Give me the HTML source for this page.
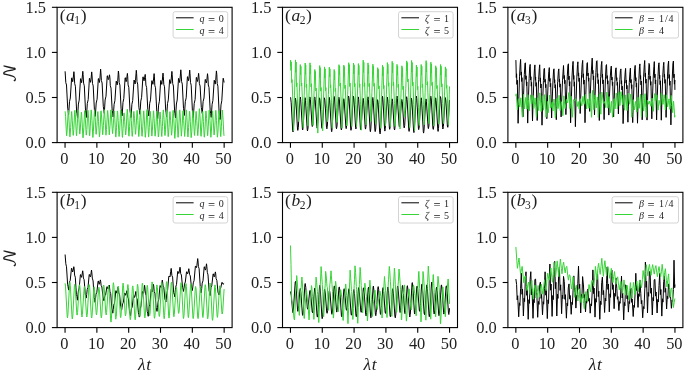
<!DOCTYPE html>
<html><head><meta charset="utf-8"><style>html,body{margin:0;padding:0;background:#fff;overflow:hidden;}svg{display:block;}</style></head><body>
<svg width="685" height="372" viewBox="0 0 685 372" font-family="'Liberation Serif', 'DejaVu Serif', serif" fill="#1e1e1e">
<rect width="685" height="372" fill="#fff"/>
<defs>
<clipPath id="c00"><rect x="57.1" y="7.3" width="175.0" height="135.3"/></clipPath>
<clipPath id="c01"><rect x="282.5" y="7.3" width="175.0" height="135.3"/></clipPath>
<clipPath id="c02"><rect x="507.9" y="7.3" width="175.0" height="135.3"/></clipPath>
<clipPath id="c10"><rect x="57.1" y="192.3" width="175.0" height="135.3"/></clipPath>
<clipPath id="c11"><rect x="282.5" y="192.3" width="175.0" height="135.3"/></clipPath>
<clipPath id="c12"><rect x="507.9" y="192.3" width="175.0" height="135.3"/></clipPath>
</defs>
<g>
<rect width="685" height="372" fill="#fff"/>
<g clip-path="url(#c00)">
<polyline points="65.1,71.3 65.8,82.6 66.5,85.0 67.7,108.1 68.1,110.7 68.6,114.7 69.5,101.7 70.3,98.0 71.6,78.1 71.8,77.8 72.7,81.7 73.1,79.1 73.9,71.7 74.2,75.0 74.7,83.7 75.4,86.2 76.6,110.9 77.0,113.7 77.5,118.0 78.4,104.1 79.2,100.1 80.5,78.9 80.7,78.6 81.6,82.7 82.0,79.8 82.8,71.3 83.1,74.7 83.6,83.2 84.3,85.8 85.5,110.3 85.9,113.1 86.4,117.4 87.3,103.5 88.2,99.6 89.4,78.5 89.6,78.2 90.5,82.3 91.0,79.7 91.7,71.9 92.0,75.1 92.5,83.4 93.2,85.9 94.4,109.6 94.8,112.3 95.3,116.4 96.2,103.0 97.1,99.2 98.3,78.8 98.5,78.5 99.4,82.5 99.9,79.1 100.6,69.1 100.9,72.3 101.4,80.5 102.1,83.0 103.3,106.5 103.7,109.2 104.3,113.3 105.1,100.0 106.0,96.2 107.2,76.0 107.4,75.7 108.3,79.6 108.8,78.4 109.5,74.8 109.9,77.9 110.3,85.7 111.0,88.1 112.2,110.5 112.7,113.1 113.2,117.0 114.1,104.3 114.9,100.7 116.2,81.4 116.3,81.1 117.2,84.9 117.7,81.3 118.4,71.0 118.8,74.3 119.2,82.6 119.9,85.1 121.1,108.9 121.6,111.6 122.1,115.8 123.0,102.3 123.8,98.5 125.1,78.0 125.3,77.7 126.1,81.7 126.6,79.6 127.4,73.4 127.7,76.6 128.1,84.9 128.8,87.3 130.0,110.9 130.5,113.6 131.0,117.6 131.9,104.3 132.7,100.5 134.0,80.3 134.2,80.0 135.1,84.0 135.5,80.5 136.3,70.3 136.6,73.4 137.0,81.7 137.7,84.1 138.9,107.6 139.4,110.3 139.9,114.3 140.8,101.1 141.6,97.3 142.9,77.1 143.1,76.8 144.0,80.8 144.4,79.1 145.2,74.4 145.5,77.4 145.9,85.1 146.6,87.4 147.8,109.6 148.3,112.1 148.8,115.9 149.7,103.4 150.5,99.9 151.8,80.8 152.0,80.6 152.9,84.3 153.3,81.6 154.1,73.6 154.4,76.9 154.8,85.3 155.5,87.8 156.8,111.7 157.2,114.5 157.7,118.6 158.6,105.1 159.4,101.2 160.7,80.6 160.9,80.4 161.8,84.4 162.2,81.5 163.0,73.1 163.3,76.3 163.8,84.4 164.5,86.8 165.7,110.1 166.1,112.7 166.6,116.8 167.5,103.6 168.3,99.9 169.6,79.9 169.8,79.6 170.7,83.5 171.1,80.4 171.9,71.4 172.2,74.7 172.7,83.4 173.4,86.0 174.6,110.9 175.0,113.8 175.5,118.0 176.4,104.0 177.2,100.0 178.5,78.6 178.7,78.3 179.6,82.5 180.0,79.2 180.8,69.8 181.1,73.1 181.6,81.6 182.3,84.1 183.5,108.5 183.9,111.2 184.4,115.4 185.3,101.7 186.2,97.8 187.4,76.9 187.6,76.6 188.5,80.7 189.0,78.0 189.7,70.1 190.0,73.6 190.5,82.5 191.2,85.2 192.4,110.7 192.8,113.6 193.3,118.0 194.2,103.6 195.1,99.5 196.3,77.6 196.5,77.3 197.4,81.5 197.9,79.4 198.6,73.3 198.9,76.2 199.4,83.7 200.1,86.0 201.3,107.4 201.7,109.9 202.3,113.6 203.1,101.5 204.0,98.0 205.2,79.6 205.4,79.4 206.3,82.9 206.8,80.6 207.5,73.7 207.9,76.8 208.3,85.0 209.0,87.4 210.2,110.7 210.7,113.4 211.2,117.4 212.1,104.3 212.9,100.5 214.2,80.5 214.3,80.2 215.2,84.1 215.7,80.7 216.4,70.9 216.8,74.4 217.2,83.5 217.9,86.2 219.1,112.1 219.6,115.1 220.1,119.5 221.0,104.9 221.8,100.7 223.1,78.5 223.3,78.2 224.1,82.5" fill="none" stroke="#000000" stroke-width="1.0" stroke-linejoin="round"/>
<polyline points="65.1,111.3 65.6,116.7 66.5,135.1 66.7,135.8 67.2,129.8 68.2,110.7 68.4,110.1 68.9,118.1 69.8,136.4 70.0,136.9 70.7,127.4 71.5,111.8 71.7,111.5 72.3,120.7 73.1,135.1 73.3,135.4 73.8,129.5 74.7,110.9 74.9,110.3 75.5,117.9 76.4,135.4 76.6,135.8 77.2,126.2 78.0,110.3 78.2,110.0 78.9,119.2 79.7,133.8 79.8,134.1 80.3,129.0 81.3,112.6 81.5,112.2 82.0,119.9 82.9,137.4 83.1,137.9 83.8,127.7 84.6,110.9 84.8,110.6 85.4,120.0 86.2,134.8 86.4,135.1 86.9,129.4 87.8,111.0 88.0,110.4 88.6,118.1 89.5,135.5 89.7,135.9 90.3,126.2 91.1,110.2 91.3,109.9 92.0,120.5 92.8,137.2 92.9,137.5 93.4,131.2 94.4,111.0 94.6,110.4 95.2,117.6 96.0,133.9 96.2,134.3 96.9,125.9 97.7,111.9 97.9,111.6 98.5,121.4 99.4,136.6 99.5,136.9 100.0,130.8 100.9,111.4 101.1,110.8 101.7,118.0 102.6,134.4 102.8,134.8 103.4,125.4 104.3,109.9 104.4,109.7 105.1,119.5 105.9,134.9 106.0,135.2 106.5,129.4 107.5,111.0 107.7,110.5 108.3,117.8 109.2,134.5 109.3,134.9 110.0,125.6 110.8,110.1 111.0,109.8 111.6,119.0 112.5,133.4 112.6,133.7 113.1,128.4 114.1,111.4 114.2,110.9 114.8,118.7 115.7,136.6 115.9,137.1 116.5,127.3 117.4,111.1 117.6,110.9 118.2,120.7 119.0,136.2 119.1,136.5 119.7,130.3 120.6,110.6 120.8,110.0 121.4,118.2 122.3,136.9 122.5,137.4 123.1,128.3 123.9,113.1 124.1,112.9 124.7,121.4 125.6,134.7 125.7,135.0 126.2,129.0 127.2,109.8 127.4,109.2 127.9,117.3 128.8,135.8 129.0,136.2 129.6,126.6 130.5,110.5 130.7,110.2 131.3,120.3 132.1,136.1 132.3,136.4 132.8,130.6 133.7,112.0 133.9,111.4 134.5,118.3 135.4,133.9 135.6,134.3 136.2,125.4 137.0,110.6 137.2,110.3 137.9,120.4 138.7,136.3 138.8,136.6 139.3,130.3 140.3,110.4 140.5,109.8 141.0,117.8 141.9,135.9 142.1,136.3 142.8,126.8 143.6,111.1 143.8,110.8 144.4,121.0 145.2,137.0 145.4,137.3 145.9,130.8 146.8,110.2 147.0,109.6 147.6,117.8 148.5,136.7 148.7,137.1 149.3,127.5 150.1,111.6 150.3,111.3 151.0,120.8 151.8,135.8 151.9,136.1 152.4,130.2 153.4,111.4 153.6,110.8 154.1,118.4 155.0,135.8 155.2,136.2 155.9,126.9 156.7,111.6 156.9,111.3 157.5,121.2 158.3,136.7 158.5,137.0 159.0,131.2 159.9,112.6 160.1,112.0 160.7,119.4 161.6,136.1 161.8,136.5 162.4,126.6 163.2,110.2 163.4,109.9 164.1,119.7 164.9,135.3 165.0,135.6 165.5,129.7 166.5,110.9 166.7,110.3 167.3,118.2 168.1,136.3 168.3,136.7 169.0,127.4 169.8,111.9 170.0,111.6 170.6,120.7 171.5,135.0 171.6,135.2 172.1,129.4 173.0,110.8 173.2,110.3 173.8,118.7 174.7,137.9 174.9,138.4 175.5,128.1 176.4,111.1 176.5,110.8 177.2,121.0 178.0,137.0 178.1,137.3 178.6,130.9 179.6,110.5 179.8,109.9 180.4,117.8 181.3,135.7 181.4,136.2 182.1,126.7 182.9,111.0 183.1,110.7 183.7,120.6 184.6,136.2 184.7,136.5 185.2,130.3 186.2,110.5 186.3,109.9 186.9,118.0 187.8,136.5 188.0,137.0 188.6,127.4 189.5,111.4 189.7,111.2 190.3,121.4 191.1,137.4 191.2,137.7 191.8,131.4 192.7,111.3 192.9,110.7 193.5,118.1 194.4,135.1 194.6,135.5 195.2,126.5 196.0,111.7 196.2,111.4 196.8,120.7 197.7,135.4 197.8,135.7 198.3,129.4 199.3,109.3 199.5,108.7 200.0,117.0 200.9,135.8 201.1,136.3 201.7,127.1 202.6,111.8 202.8,111.5 203.4,121.4 204.2,136.9 204.4,137.2 204.9,131.1 205.8,111.5 206.0,110.9 206.6,118.4 207.5,135.4 207.7,135.8 208.3,126.3 209.1,110.4 209.3,110.1 210.0,120.5 210.8,136.9 210.9,137.3 211.4,131.1 212.4,111.4 212.6,110.9 213.1,118.1 214.0,134.6 214.2,135.0 214.9,125.8 215.7,110.6 215.9,110.3 216.5,120.7 217.3,136.9 217.5,137.2 218.0,131.0 218.9,111.2 219.1,110.6 219.7,118.4 220.6,136.1 220.8,136.6 221.4,126.7 222.2,110.3 222.4,110.0 223.1,119.8 223.9,135.3 224.0,135.6 224.1,135.1" fill="none" stroke="#38d438" stroke-width="1.0" stroke-linejoin="round"/>
</g>
<rect x="57.1" y="7.3" width="175.0" height="135.3" fill="none" stroke="#000" stroke-width="1.1"/>
<line x1="65.05" y1="142.60000000000002" x2="65.05" y2="147.8" stroke="#000" stroke-width="1.1"/>
<text x="64.45" y="163.80" font-size="16.4" text-anchor="middle">0</text>
<line x1="96.87" y1="142.60000000000002" x2="96.87" y2="147.8" stroke="#000" stroke-width="1.1"/>
<text x="96.27" y="163.80" font-size="16.4" text-anchor="middle">10</text>
<line x1="128.69" y1="142.60000000000002" x2="128.69" y2="147.8" stroke="#000" stroke-width="1.1"/>
<text x="128.09" y="163.80" font-size="16.4" text-anchor="middle">20</text>
<line x1="160.51" y1="142.60000000000002" x2="160.51" y2="147.8" stroke="#000" stroke-width="1.1"/>
<text x="159.91" y="163.80" font-size="16.4" text-anchor="middle">30</text>
<line x1="192.33" y1="142.60000000000002" x2="192.33" y2="147.8" stroke="#000" stroke-width="1.1"/>
<text x="191.73" y="163.80" font-size="16.4" text-anchor="middle">40</text>
<line x1="224.15" y1="142.60000000000002" x2="224.15" y2="147.8" stroke="#000" stroke-width="1.1"/>
<text x="223.55" y="163.80" font-size="16.4" text-anchor="middle">50</text>
<line x1="51.9" y1="142.60" x2="57.1" y2="142.60" stroke="#000" stroke-width="1.1"/>
<text x="46.00" y="148.00" font-size="16.4" text-anchor="end">0.0</text>
<line x1="51.9" y1="97.50" x2="57.1" y2="97.50" stroke="#000" stroke-width="1.1"/>
<text x="46.00" y="102.90" font-size="16.4" text-anchor="end">0.5</text>
<line x1="51.9" y1="52.40" x2="57.1" y2="52.40" stroke="#000" stroke-width="1.1"/>
<text x="46.00" y="57.80" font-size="16.4" text-anchor="end">1.0</text>
<line x1="51.9" y1="7.30" x2="57.1" y2="7.30" stroke="#000" stroke-width="1.1"/>
<text x="46.00" y="12.70" font-size="16.4" text-anchor="end">1.5</text>
<text x="59.70" y="20.90" font-size="17.5">(</text>
<text x="66.00" y="20.90" font-size="17.5" font-style="italic">a</text>
<text x="74.30" y="23.50" font-size="11.5">1</text>
<text x="80.70" y="20.90" font-size="17.5">)</text>
<rect x="173.10" y="11.70" width="54.6" height="26.3" rx="2" ry="2" fill="#fff" fill-opacity="0.8" stroke="#d4d4d4" stroke-width="1"/>
<line x1="176.00" y1="17.80" x2="193.60" y2="17.80" stroke="#000000" stroke-width="1.0"/>
<text x="199.50" y="21.80" font-size="10" font-style="italic">q</text>
<text x="208.00" y="23.90" font-size="12.5" fill="#222">=</text>
<text x="218.70" y="21.80" font-size="10">0</text>
<line x1="176.00" y1="29.50" x2="193.60" y2="29.50" stroke="#38d438" stroke-width="1.0"/>
<text x="199.50" y="33.50" font-size="10" font-style="italic">q</text>
<text x="208.00" y="35.60" font-size="12.5" fill="#222">=</text>
<text x="218.70" y="33.50" font-size="10">4</text>
<text x="0" y="0" transform="translate(15.8,73.35) rotate(-90)" font-size="17" text-anchor="middle" font-family="'DejaVu Math TeX Gyre', 'Liberation Serif', 'DejaVu Serif', serif">𝒩</text>
<g clip-path="url(#c01)">
<polyline points="290.5,97.5 290.6,97.3 291.2,102.8 292.7,130.4 293.0,131.9 293.4,129.1 295.1,99.6 295.4,98.2 295.9,100.8 297.5,129.0 297.8,130.4 298.3,127.7 299.9,98.4 300.3,97.0 300.7,99.7 302.4,128.5 302.7,129.9 303.1,127.3 304.8,99.1 305.1,97.7 305.5,100.4 307.2,129.5 307.5,130.9 308.0,128.1 309.6,98.3 309.9,96.9 310.4,99.3 312.0,125.2 312.3,126.5 312.8,124.1 314.4,98.2 314.8,96.9 315.2,99.5 316.9,126.8 317.2,128.2 317.6,125.7 319.3,99.0 319.6,97.8 320.0,100.3 321.7,127.1 322.0,128.4 322.5,125.9 324.1,99.1 324.4,97.8 324.9,100.3 326.5,127.5 326.9,128.8 327.3,126.2 329.0,98.7 329.3,97.4 329.7,100.2 331.4,130.3 331.7,131.7 332.1,128.8 333.8,97.9 334.1,96.4 334.6,99.0 336.2,127.3 336.5,128.7 337.0,126.1 338.6,98.5 338.9,97.2 339.4,99.9 341.0,128.5 341.4,129.9 341.8,127.4 343.5,100.0 343.8,98.7 344.2,101.1 345.9,127.4 346.2,128.6 346.6,126.0 348.3,97.4 348.6,96.0 349.1,98.8 350.7,128.9 351.0,130.3 351.5,127.6 353.1,97.7 353.5,96.3 353.9,99.0 355.6,127.5 355.9,128.9 356.3,126.3 358.0,98.2 358.3,96.9 358.7,99.5 360.4,128.2 360.7,129.6 361.2,127.0 362.8,99.7 363.1,98.3 363.6,100.8 365.2,127.8 365.5,129.1 366.0,126.5 367.6,98.1 368.0,96.8 368.4,99.6 370.1,130.2 370.4,131.7 370.8,128.9 372.5,98.9 372.8,97.4 373.2,100.2 374.9,130.2 375.2,131.6 375.7,129.0 377.3,101.0 377.6,99.7 378.1,102.5 379.7,132.4 380.1,133.9 380.5,130.8 382.2,97.8 382.5,96.2 382.9,99.1 384.6,129.6 384.9,131.1 385.3,128.3 387.0,98.6 387.3,97.1 387.8,99.8 389.4,128.0 389.7,129.3 390.2,126.8 391.8,100.1 392.1,98.8 392.6,101.3 394.2,128.7 394.6,130.0 395.0,127.2 396.7,97.4 397.0,96.0 397.4,98.5 399.1,125.6 399.4,126.9 399.8,124.7 401.5,100.5 401.8,99.4 402.3,101.7 403.9,126.7 404.2,127.9 404.7,125.4 406.3,98.0 406.7,96.7 407.1,99.5 408.8,130.0 409.1,131.4 409.5,128.7 411.2,99.6 411.5,98.2 411.9,101.0 413.6,131.2 413.9,132.6 414.4,129.6 416.0,97.6 416.3,96.0 416.8,98.7 418.4,128.2 418.7,129.6 419.2,127.0 420.8,99.2 421.2,97.8 421.6,100.7 423.3,131.6 423.6,133.1 424.0,130.3 425.7,100.3 426.0,98.9 426.4,101.3 428.1,127.4 428.4,128.6 428.9,126.0 430.5,97.6 430.8,96.2 431.3,98.9 432.9,128.0 433.3,129.4 433.7,126.9 435.4,99.2 435.7,97.8 436.1,100.6 437.8,130.0 438.1,131.4 438.5,128.6 440.2,98.1 440.5,96.6 441.0,99.3 442.6,127.6 442.9,129.0 443.4,126.4 445.0,98.9 445.3,97.6 445.8,100.0 447.4,126.0 447.8,127.3 448.2,124.6 449.5,100.0" fill="none" stroke="#000000" stroke-width="1.0" stroke-linejoin="round"/>
<polyline points="290.5,66.1 290.6,60.1 291.0,70.5 291.2,61.9 291.7,82.6 292.0,79.5 292.8,99.1 293.6,130.8 294.5,95.3 295.5,59.9 295.8,72.3 296.1,62.0 296.5,86.6 296.9,82.9 297.6,106.0 298.5,121.5 299.4,92.9 300.3,64.6 300.6,74.5 300.9,66.3 301.3,86.0 301.7,83.0 302.5,101.8 303.3,127.8 304.2,95.3 305.2,63.0 305.5,74.3 305.7,64.9 306.2,87.4 306.6,84.1 307.3,105.4 308.1,125.9 309.0,94.0 310.0,62.8 310.3,73.9 310.6,65.0 311.0,86.9 311.4,83.7 312.2,104.3 313.0,125.5 313.9,97.2 314.8,69.5 315.1,79.4 315.4,71.5 315.8,90.9 316.2,88.1 317.0,106.3 317.8,133.1 318.7,99.3 319.7,65.6 320.0,77.4 320.2,67.7 320.7,91.1 321.1,87.5 321.8,109.6 322.7,130.8 323.5,98.8 324.5,66.9 324.8,78.0 325.1,68.8 325.5,91.0 325.9,87.6 326.6,108.4 327.5,121.8 328.4,94.4 329.3,67.2 329.7,76.7 329.9,68.8 330.4,87.8 330.7,84.9 331.5,102.9 332.3,128.3 333.2,98.8 334.2,69.5 334.5,79.7 334.7,71.3 335.2,91.6 335.6,88.4 336.3,107.5 336.9,119.5 337.2,122.4 338.1,93.7 339.0,64.7 339.3,74.6 339.6,66.2 340.0,86.2 340.4,83.0 341.2,102.0 342.0,128.3 342.9,96.9 343.8,65.1 344.2,76.0 344.4,66.7 344.9,88.6 345.2,85.2 346.0,106.0 346.8,125.9 347.7,94.3 348.7,62.7 349.0,73.7 349.3,64.6 349.7,86.5 350.1,83.1 350.8,103.9 351.7,126.5 352.6,94.7 353.5,63.0 353.8,74.0 354.1,64.8 354.5,86.9 354.9,83.5 355.7,104.4 356.5,126.8 357.4,95.1 358.4,63.6 358.7,74.6 358.9,65.4 359.4,87.3 359.8,84.0 360.5,104.8 361.3,130.2 362.2,95.2 363.2,60.2 363.5,72.4 363.8,62.3 364.2,86.5 364.6,82.8 365.4,105.8 366.2,124.9 367.1,93.5 368.0,62.9 368.3,73.8 368.6,65.1 369.0,86.6 369.4,83.5 370.2,103.8 371.0,121.6 371.9,92.6 372.9,64.2 373.2,74.4 373.4,66.3 373.9,86.3 374.3,83.4 375.0,102.2 375.9,124.3 376.7,96.0 377.7,67.7 378.0,77.5 378.3,69.3 378.7,88.9 379.1,85.9 379.9,104.6 380.7,128.3 381.6,96.6 382.5,65.0 382.9,76.0 383.1,66.8 383.6,88.7 383.9,85.4 384.7,106.2 385.5,126.0 386.4,94.4 387.4,62.6 387.7,73.6 387.9,64.3 388.4,86.2 388.8,82.8 389.5,103.7 390.4,126.7 391.3,94.1 392.2,61.3 392.5,72.6 392.8,63.0 393.2,85.7 393.6,82.1 394.4,103.6 395.2,126.4 396.1,95.5 397.0,64.4 397.4,75.1 397.6,66.0 398.1,87.5 398.4,84.1 399.2,104.6 400.0,129.0 400.9,97.3 401.9,65.8 402.2,76.8 402.5,67.7 402.9,89.6 403.3,86.2 404.0,106.8 404.9,116.7 405.8,88.7 406.7,60.9 407.0,70.6 407.3,62.6 407.7,81.9 408.1,79.0 408.9,97.4 409.7,127.6 410.6,94.0 411.6,60.5 411.9,72.2 412.1,62.5 412.6,85.8 413.0,82.2 413.7,104.3 414.5,130.8 415.4,97.8 416.4,65.0 416.7,76.5 417.0,67.0 417.4,89.8 417.8,86.3 418.5,107.7 419.1,122.0 419.4,125.5 420.3,94.9 421.2,64.5 421.5,75.1 421.8,66.3 422.2,87.5 422.6,84.2 423.4,104.3 424.2,124.9 425.1,92.6 426.1,60.6 426.4,71.9 426.6,62.7 427.1,85.0 427.5,81.7 428.2,102.7 429.1,123.6 429.9,92.7 430.9,62.2 431.2,73.0 431.5,64.2 431.9,85.5 432.3,82.3 433.1,102.5 433.9,125.9 434.8,95.7 435.7,65.8 436.1,76.3 436.3,67.7 436.8,88.6 437.1,85.5 437.9,105.1 438.7,124.1 439.6,94.3 440.6,64.5 440.9,74.9 441.1,66.3 441.6,87.0 442.0,83.8 442.7,103.4 443.6,123.6 444.5,95.2 445.4,66.9 445.7,76.8 446.0,68.6 446.4,88.3 446.8,85.3 447.6,103.9 448.4,125.1 449.3,94.3 449.5,86.4" fill="none" stroke="#38d438" stroke-width="1.0" stroke-linejoin="round"/>
</g>
<rect x="282.5" y="7.3" width="175.0" height="135.3" fill="none" stroke="#000" stroke-width="1.1"/>
<line x1="290.45" y1="142.60000000000002" x2="290.45" y2="147.8" stroke="#000" stroke-width="1.1"/>
<text x="289.85" y="163.80" font-size="16.4" text-anchor="middle">0</text>
<line x1="322.27" y1="142.60000000000002" x2="322.27" y2="147.8" stroke="#000" stroke-width="1.1"/>
<text x="321.67" y="163.80" font-size="16.4" text-anchor="middle">10</text>
<line x1="354.09" y1="142.60000000000002" x2="354.09" y2="147.8" stroke="#000" stroke-width="1.1"/>
<text x="353.49" y="163.80" font-size="16.4" text-anchor="middle">20</text>
<line x1="385.91" y1="142.60000000000002" x2="385.91" y2="147.8" stroke="#000" stroke-width="1.1"/>
<text x="385.31" y="163.80" font-size="16.4" text-anchor="middle">30</text>
<line x1="417.73" y1="142.60000000000002" x2="417.73" y2="147.8" stroke="#000" stroke-width="1.1"/>
<text x="417.13" y="163.80" font-size="16.4" text-anchor="middle">40</text>
<line x1="449.55" y1="142.60000000000002" x2="449.55" y2="147.8" stroke="#000" stroke-width="1.1"/>
<text x="448.95" y="163.80" font-size="16.4" text-anchor="middle">50</text>
<line x1="277.3" y1="142.60" x2="282.5" y2="142.60" stroke="#000" stroke-width="1.1"/>
<text x="271.40" y="148.00" font-size="16.4" text-anchor="end">0.0</text>
<line x1="277.3" y1="97.50" x2="282.5" y2="97.50" stroke="#000" stroke-width="1.1"/>
<text x="271.40" y="102.90" font-size="16.4" text-anchor="end">0.5</text>
<line x1="277.3" y1="52.40" x2="282.5" y2="52.40" stroke="#000" stroke-width="1.1"/>
<text x="271.40" y="57.80" font-size="16.4" text-anchor="end">1.0</text>
<line x1="277.3" y1="7.30" x2="282.5" y2="7.30" stroke="#000" stroke-width="1.1"/>
<text x="271.40" y="12.70" font-size="16.4" text-anchor="end">1.5</text>
<text x="285.10" y="20.90" font-size="17.5">(</text>
<text x="291.40" y="20.90" font-size="17.5" font-style="italic">a</text>
<text x="299.70" y="23.50" font-size="11.5">2</text>
<text x="306.10" y="20.90" font-size="17.5">)</text>
<rect x="398.50" y="11.70" width="54.6" height="26.3" rx="2" ry="2" fill="#fff" fill-opacity="0.8" stroke="#d4d4d4" stroke-width="1"/>
<line x1="401.40" y1="17.80" x2="419.00" y2="17.80" stroke="#000000" stroke-width="1.0"/>
<text x="424.90" y="21.80" font-size="10" font-style="italic">ζ</text>
<text x="433.40" y="23.90" font-size="12.5" fill="#222">=</text>
<text x="444.10" y="21.80" font-size="10">1</text>
<line x1="401.40" y1="29.50" x2="419.00" y2="29.50" stroke="#38d438" stroke-width="1.0"/>
<text x="424.90" y="33.50" font-size="10" font-style="italic">ζ</text>
<text x="433.40" y="35.60" font-size="12.5" fill="#222">=</text>
<text x="444.10" y="33.50" font-size="10">5</text>
<g clip-path="url(#c02)">
<polyline points="515.9,60.1 516.3,77.5 516.6,73.8 516.9,84.4 517.3,80.2 518.1,123.3 518.7,104.5 519.5,76.8 520.2,64.2 520.6,59.4 521.1,75.2 521.3,71.9 521.7,81.5 522.0,77.7 522.9,116.9 523.4,99.8 524.3,74.6 525.0,63.3 525.4,62.8 525.8,79.4 526.1,75.8 526.5,85.9 526.8,81.9 527.7,123.1 528.2,105.1 529.1,78.7 529.7,66.7 530.2,64.4 530.6,80.0 530.9,76.7 531.3,86.2 531.6,82.4 532.5,121.0 533.0,104.1 533.9,79.4 534.5,68.2 534.9,64.9 535.4,80.2 535.6,77.0 536.0,86.3 536.3,82.6 537.2,120.5 537.7,103.9 538.6,79.6 539.3,68.6 539.7,64.8 540.2,81.4 540.4,77.9 540.8,88.0 541.1,84.0 542.0,125.2 542.5,107.2 543.4,80.7 544.0,68.8 544.5,68.3 544.9,82.2 545.2,79.3 545.6,87.7 545.9,84.3 546.8,118.7 547.3,103.7 548.2,81.6 548.8,71.5 549.3,67.6 549.7,81.4 550.0,78.4 550.3,86.8 550.7,83.4 551.6,118.0 552.1,102.8 553.0,80.2 553.6,69.9 554.0,68.8 554.5,82.7 554.7,79.7 555.1,88.1 555.4,84.7 556.3,119.7 556.8,104.3 557.7,81.5 558.4,71.1 558.8,68.9 559.3,82.0 559.5,79.2 559.9,87.2 560.2,83.9 561.1,116.9 561.6,102.4 562.5,80.9 563.5,65.5 564.0,78.6 564.3,75.5 564.7,83.7 565.0,80.2 565.9,114.6 566.4,99.3 567.3,76.2 567.9,65.4 568.4,63.8 568.8,79.7 569.1,76.1 569.4,85.9 569.8,81.7 570.6,122.8 571.2,104.5 572.0,77.1 572.7,64.4 573.1,61.4 573.6,79.3 573.8,75.4 574.2,86.3 574.5,81.9 575.4,126.7 575.9,107.0 576.8,77.9 577.5,64.6 577.9,61.8 578.3,75.9 578.6,72.9 579.0,81.5 579.3,78.0 580.2,113.5 580.7,97.9 581.6,74.9 582.2,64.3 582.7,60.4 583.1,77.5 583.4,73.8 583.8,84.2 584.1,80.0 585.0,122.7 585.5,103.9 586.4,76.2 587.0,63.5 587.4,62.6 587.9,75.9 588.1,73.0 588.5,81.2 588.8,77.9 589.7,111.4 590.2,96.6 591.1,74.9 592.2,58.1 592.7,73.7 592.9,70.3 593.3,79.8 593.6,75.9 594.5,114.9 595.0,97.8 595.9,72.6 596.5,61.3 597.0,60.7 597.4,77.2 597.7,73.7 598.1,83.7 598.4,79.8 599.3,120.5 599.8,102.7 600.7,76.7 601.3,64.9 601.8,61.4 602.2,77.4 602.5,74.0 602.8,83.8 603.2,79.9 604.1,119.6 604.6,102.3 605.5,76.9 606.1,65.5 606.5,64.6 607.0,78.5 607.2,75.6 607.6,84.1 607.9,80.7 608.8,115.1 609.3,100.1 610.2,78.2 610.9,68.3 611.3,66.1 611.8,80.0 612.0,77.1 612.4,85.5 612.7,82.1 613.6,116.8 614.1,101.6 615.0,79.3 615.6,69.2 616.1,67.8 616.5,80.4 616.8,77.7 617.2,85.4 617.5,82.4 618.4,113.9 618.9,100.1 619.8,79.8 620.4,70.7 620.9,68.9 621.3,83.9 621.6,80.7 621.9,89.9 622.3,86.2 623.1,123.6 623.7,107.2 624.5,83.1 625.2,72.2 625.6,68.4 626.1,83.2 626.3,80.1 626.7,89.0 627.0,85.4 627.9,122.2 628.4,106.1 629.3,82.4 630.0,71.7 630.4,68.1 630.8,82.8 631.1,79.5 631.5,88.5 631.8,84.7 632.7,122.6 633.2,105.7 634.1,80.5 634.7,68.8 635.2,65.4 635.6,81.1 635.9,77.6 636.3,87.1 636.6,83.1 637.5,123.2 638.0,105.4 638.9,78.7 639.5,66.3 639.9,63.9 640.4,79.1 640.6,75.6 641.0,84.9 641.3,81.0 642.2,119.8 642.7,102.5 643.6,76.9 644.3,64.7 644.7,60.5 645.2,76.8 645.4,73.2 645.8,83.2 646.1,79.1 647.0,120.1 647.5,102.1 648.4,75.5 649.0,63.4 649.5,64.6 649.9,79.4 650.2,76.2 650.6,85.2 650.9,81.6 651.8,118.8 652.3,102.4 653.2,78.2 653.9,66.7 654.3,61.6 654.7,77.6 655.0,74.1 655.3,83.8 655.7,79.9 656.6,119.9 657.1,102.3 658.0,76.3 658.6,64.4 659.0,62.8 659.5,78.5 659.7,75.1 660.1,84.7 660.4,80.8 661.3,120.2 661.8,102.8 662.7,77.3 663.4,65.6 663.8,62.3 664.3,77.3 664.5,74.1 664.9,83.3 665.2,79.5 666.1,117.4 666.6,100.7 667.5,76.1 668.1,64.9 668.6,61.0 669.0,78.4 669.3,74.6 669.7,85.3 670.0,81.0 670.9,124.9 671.4,105.6 672.3,77.0 672.9,64.0 673.4,61.0 673.8,77.7 674.1,74.1 674.4,84.2 674.8,80.1 674.9,89.9" fill="none" stroke="#000000" stroke-width="1.0" stroke-linejoin="round"/>
<polyline points="515.9,96.1 516.2,93.8 516.9,103.2 517.4,109.8 517.9,105.0 518.5,98.8 518.9,100.9 519.7,107.0 520.1,105.1 520.8,97.8 520.9,98.0 522.3,117.0 522.5,117.2 523.6,94.4 524.0,100.6 524.5,108.9 525.0,105.1 525.8,97.4 526.1,98.7 527.0,109.2 527.3,106.2 527.9,94.6 528.4,99.6 529.2,110.8 529.3,110.9 529.9,103.2 530.6,94.9 530.7,94.8 531.7,104.0 532.2,101.0 532.9,95.3 533.2,96.8 533.8,108.5 534.3,105.0 535.0,98.0 535.1,97.9 535.8,107.5 536.4,117.3 536.8,114.0 537.6,97.9 537.7,97.6 538.7,110.6 539.3,101.4 539.8,92.9 540.2,95.7 541.1,111.3 541.2,111.6 541.8,101.7 542.3,95.7 542.7,100.0 543.4,110.2 543.9,106.3 544.6,94.6 544.9,96.5 546.0,117.2 546.1,117.3 546.8,108.1 547.4,101.4 547.7,105.1 548.2,112.7 548.7,108.1 549.5,95.2 549.6,95.1 550.3,104.0 550.8,108.0 551.1,107.5 552.1,102.2 552.3,102.1 552.9,111.0 554.0,99.0 554.4,102.8 555.3,117.7 555.5,118.0 556.2,107.7 556.8,98.4 557.0,98.2 558.0,108.6 558.4,106.9 559.1,95.3 559.6,100.3 560.2,110.5 560.7,108.6 561.5,101.7 561.7,101.9 562.8,115.7 563.1,112.4 563.8,95.8 564.0,96.4 565.0,108.4 565.2,108.6 565.8,103.4 566.3,99.5 566.7,100.1 567.5,103.0 567.7,102.6 568.7,92.7 568.9,92.6 569.9,108.6 570.3,104.5 571.0,96.2 571.5,103.0 572.2,117.3 572.6,115.0 573.4,99.8 573.9,100.0 574.7,100.7 575.8,98.7 576.3,100.6 577.3,106.4 577.5,106.3 578.2,101.5 579.2,109.2 579.6,106.8 580.3,98.7 580.6,99.5 581.7,105.9 581.9,105.8 582.9,96.4 583.4,99.2 584.1,104.3 584.4,103.4 585.3,94.5 585.5,94.4 586.6,109.0 586.9,107.2 587.8,98.9 588.0,99.4 588.9,108.3 589.2,106.7 590.1,93.4 590.4,95.3 591.5,116.9 591.6,117.3 592.4,90.4 593.0,96.8 593.8,109.6 593.9,109.8 594.7,98.3 595.1,94.9 595.7,100.6 596.3,107.9 596.7,105.2 597.3,96.9 597.6,100.3 598.3,117.3 598.8,112.5 599.7,94.2 599.8,93.9 600.8,114.2 601.4,100.0 601.9,92.2 602.4,94.9 603.4,103.3 603.6,103.4 604.6,101.6 604.9,102.7 605.8,107.6 606.2,102.1 606.8,92.1 607.2,96.0 607.9,108.2 608.3,105.0 609.0,96.6 609.1,96.5 609.8,104.0 610.4,112.4 610.5,112.6 611.5,101.3 611.9,107.5 612.5,117.3 612.8,116.0 613.9,98.8 614.1,98.6 615.0,108.9 615.4,106.2 616.2,93.1 616.3,93.1 617.4,109.0 617.9,104.5 618.6,91.7 618.9,93.2 619.8,105.7 620.2,103.8 620.9,91.8 621.0,91.7 621.7,96.8 622.5,104.8 622.6,104.8 623.3,94.8 623.7,98.7 624.5,110.1 624.6,110.2 625.3,100.9 625.8,94.9 626.1,96.8 627.0,110.5 627.1,110.6 627.8,100.0 628.3,93.1 628.4,93.0 629.5,104.2 629.8,102.9 630.7,94.2 631.1,101.2 631.8,117.3 632.2,113.5 633.1,99.8 633.3,99.7 634.3,110.0 634.7,108.3 635.5,101.5 635.8,102.5 636.8,112.2 637.1,109.7 637.8,97.1 638.2,99.2 639.2,108.2 639.3,108.3 640.0,99.0 640.5,94.2 640.9,102.8 641.5,117.3 642.1,100.6 642.4,95.1 643.0,102.3 643.6,111.1 644.1,107.5 645.0,93.9 645.1,93.7 645.7,107.6 646.2,117.3 646.7,111.3 647.3,100.1 647.5,100.1 648.8,104.3 649.2,103.3 649.7,101.0 650.4,103.7 651.0,106.4 651.5,103.1 652.0,98.1 652.4,100.2 653.2,111.2 653.4,111.3 654.5,93.6 654.9,95.1 655.6,100.4 655.8,100.4 656.8,94.8 657.1,96.6 658.0,110.0 658.1,110.1 659.0,100.3 659.4,101.2 660.3,105.8 660.6,104.8 661.3,93.1 661.5,93.1 662.2,98.3 662.9,104.4 663.1,104.3 664.1,94.7 664.6,98.4 665.3,109.8 665.5,110.1 666.4,94.8 666.8,97.1 667.6,106.7 667.7,106.9 668.3,103.0 669.0,98.8 669.3,100.7 669.9,109.3 670.4,106.0 671.2,95.4 671.5,96.8 672.5,112.3 672.7,112.7 673.5,101.1 674.1,107.5 674.7,117.3 674.9,115.1" fill="none" stroke="#38d438" stroke-width="1.0" stroke-linejoin="round"/>
</g>
<rect x="507.9" y="7.3" width="175.0" height="135.3" fill="none" stroke="#000" stroke-width="1.1"/>
<line x1="515.85" y1="142.60000000000002" x2="515.85" y2="147.8" stroke="#000" stroke-width="1.1"/>
<text x="515.25" y="163.80" font-size="16.4" text-anchor="middle">0</text>
<line x1="547.67" y1="142.60000000000002" x2="547.67" y2="147.8" stroke="#000" stroke-width="1.1"/>
<text x="547.07" y="163.80" font-size="16.4" text-anchor="middle">10</text>
<line x1="579.49" y1="142.60000000000002" x2="579.49" y2="147.8" stroke="#000" stroke-width="1.1"/>
<text x="578.89" y="163.80" font-size="16.4" text-anchor="middle">20</text>
<line x1="611.31" y1="142.60000000000002" x2="611.31" y2="147.8" stroke="#000" stroke-width="1.1"/>
<text x="610.71" y="163.80" font-size="16.4" text-anchor="middle">30</text>
<line x1="643.13" y1="142.60000000000002" x2="643.13" y2="147.8" stroke="#000" stroke-width="1.1"/>
<text x="642.53" y="163.80" font-size="16.4" text-anchor="middle">40</text>
<line x1="674.95" y1="142.60000000000002" x2="674.95" y2="147.8" stroke="#000" stroke-width="1.1"/>
<text x="674.35" y="163.80" font-size="16.4" text-anchor="middle">50</text>
<line x1="502.7" y1="142.60" x2="507.9" y2="142.60" stroke="#000" stroke-width="1.1"/>
<text x="496.80" y="148.00" font-size="16.4" text-anchor="end">0.0</text>
<line x1="502.7" y1="97.50" x2="507.9" y2="97.50" stroke="#000" stroke-width="1.1"/>
<text x="496.80" y="102.90" font-size="16.4" text-anchor="end">0.5</text>
<line x1="502.7" y1="52.40" x2="507.9" y2="52.40" stroke="#000" stroke-width="1.1"/>
<text x="496.80" y="57.80" font-size="16.4" text-anchor="end">1.0</text>
<line x1="502.7" y1="7.30" x2="507.9" y2="7.30" stroke="#000" stroke-width="1.1"/>
<text x="496.80" y="12.70" font-size="16.4" text-anchor="end">1.5</text>
<text x="510.50" y="20.90" font-size="17.5">(</text>
<text x="516.80" y="20.90" font-size="17.5" font-style="italic">a</text>
<text x="525.10" y="23.50" font-size="11.5">3</text>
<text x="531.50" y="20.90" font-size="17.5">)</text>
<rect x="612.10" y="11.70" width="66.4" height="26.3" rx="2" ry="2" fill="#fff" fill-opacity="0.8" stroke="#d4d4d4" stroke-width="1"/>
<line x1="615.00" y1="17.80" x2="632.60" y2="17.80" stroke="#000000" stroke-width="1.0"/>
<text x="638.90" y="21.80" font-size="10" font-style="italic">β</text>
<text x="647.40" y="23.90" font-size="12.5" fill="#222">=</text>
<text x="659.00" y="21.80" font-size="10" letter-spacing="0.9">1/4</text>
<line x1="615.00" y1="29.50" x2="632.60" y2="29.50" stroke="#38d438" stroke-width="1.0"/>
<text x="638.90" y="33.50" font-size="10" font-style="italic">β</text>
<text x="647.40" y="35.60" font-size="12.5" fill="#222">=</text>
<text x="659.00" y="33.50" font-size="10">4</text>
<g clip-path="url(#c10)">
<polyline points="65.1,254.5 65.8,263.7 66.5,266.8 67.6,284.3 68.0,286.3 68.6,290.1 69.0,286.5 69.5,281.9 70.2,280.6 71.5,268.3 71.7,268.1 72.6,272.0 73.1,270.7 73.8,266.7 74.2,269.1 74.6,275.1 75.3,277.2 76.4,294.4 76.9,296.4 77.4,300.2 77.8,296.2 78.4,291.0 79.2,288.0 80.4,274.7 80.6,274.5 81.5,277.3 81.9,275.7 82.7,270.8 83.0,272.8 83.4,278.1 84.1,279.6 85.3,294.1 85.7,295.5 86.2,298.1 86.7,294.4 87.2,289.6 88.0,287.4 89.2,274.6 89.4,274.4 90.3,276.9 90.8,275.2 91.5,270.0 91.8,272.3 92.3,278.1 93.1,280.9 94.1,297.4 94.6,299.2 95.1,302.4 95.5,298.8 96.0,294.2 96.8,292.4 98.1,281.2 98.3,281.0 99.2,284.3 99.6,283.2 100.4,279.9 100.7,281.4 101.1,285.3 101.9,287.0 103.0,297.1 103.4,298.3 103.9,300.7 104.4,298.5 104.9,295.7 105.6,294.9 106.9,286.8 107.2,286.7 108.0,289.0 108.5,288.1 109.2,285.0 109.5,287.0 110.0,291.9 110.7,293.6 111.8,308.2 112.3,310.0 112.8,313.2 113.2,309.7 113.7,305.2 114.5,303.1 115.8,290.8 116.0,290.6 116.9,293.2 117.3,291.6 118.1,286.9 118.4,288.6 118.8,292.9 119.6,294.8 120.7,306.5 121.1,307.8 121.6,310.1 122.1,307.4 122.6,303.9 123.3,302.4 124.6,293.1 124.9,293.0 125.7,295.3 126.1,294.2 126.9,290.7 127.2,292.4 127.7,297.0 128.4,298.5 129.5,311.8 130.0,313.3 130.5,316.1 130.9,312.9 131.4,308.9 132.2,307.0 133.5,295.4 133.7,295.1 134.5,297.5 135.0,296.0 135.8,291.5 136.1,293.3 136.5,297.8 137.2,299.1 138.4,312.7 138.8,314.3 139.3,317.1 139.8,313.4 140.3,308.6 141.0,306.1 142.3,291.6 142.5,291.4 143.4,293.5 143.8,291.5 144.6,285.3 144.9,287.5 145.4,293.3 146.1,295.1 147.2,311.4 147.7,313.1 148.2,316.3 148.6,312.1 149.1,306.8 149.9,304.2 151.2,289.5 151.3,289.3 152.2,291.9 152.7,290.0 153.4,284.4 153.8,286.5 154.2,291.7 154.9,293.1 156.1,307.4 156.5,308.8 157.0,311.4 157.5,307.4 158.0,302.3 158.8,299.2 160.0,285.7 160.2,285.5 161.1,287.5 161.5,285.6 162.3,280.1 162.6,281.8 163.1,286.2 163.8,287.3 164.9,299.0 165.4,300.4 165.9,302.0 166.8,293.5 167.6,290.1 168.8,276.3 169.1,276.0 170.0,277.0 170.7,271.5 171.2,268.4 171.9,275.5 172.6,277.1 173.7,292.7 174.3,294.6 174.8,296.8 175.6,287.5 176.5,284.4 177.7,271.5 177.9,271.3 178.8,273.5 179.2,272.0 180.0,267.2 180.3,269.0 180.7,273.6 181.4,275.0 182.6,287.7 183.0,289.0 183.5,291.4 184.0,288.2 184.5,284.2 185.3,282.0 186.5,271.9 186.8,271.7 187.6,273.8 188.1,272.6 188.8,268.7 189.1,270.4 189.6,274.6 190.3,275.9 191.4,286.9 191.9,288.1 192.4,290.5 192.8,287.1 193.3,282.8 194.1,280.4 195.4,266.2 195.6,266.0 196.5,267.6 196.9,265.4 197.7,258.6 198.0,260.9 198.4,266.7 199.1,268.6 200.3,287.4 200.7,289.3 201.2,292.9 201.7,288.6 202.2,283.1 203.0,280.8 204.2,266.9 204.4,266.7 205.3,270.1 205.8,268.5 206.5,263.8 206.8,266.2 207.3,272.3 208.0,274.9 209.1,290.8 209.6,292.5 210.1,295.6 210.5,292.0 211.0,287.4 211.8,285.5 213.1,274.0 213.3,273.8 214.2,276.9 214.6,275.6 215.4,271.9 215.7,273.8 216.1,278.5 216.9,280.6 218.0,292.3 218.5,293.8 219.0,294.9 219.9,289.2 220.8,287.6 221.9,282.4 222.2,282.4 223.0,284.3 224.1,283.4" fill="none" stroke="#000000" stroke-width="1.0" stroke-linejoin="round"/>
<polyline points="65.1,283.3 65.5,286.1 67.2,316.3 67.5,317.8 67.9,314.9 69.6,283.8 69.9,282.3 70.3,285.2 72.0,317.3 72.3,318.9 72.8,316.0 74.4,285.8 74.7,284.4 75.2,286.9 76.8,313.8 77.1,315.1 77.6,312.6 79.2,286.0 79.6,284.7 80.0,287.3 81.7,315.7 82.0,317.0 82.4,314.5 84.1,287.8 84.4,286.5 84.8,289.0 86.5,315.7 86.8,317.0 87.3,314.4 88.9,286.0 89.2,284.6 89.7,287.3 91.3,316.6 91.7,318.0 92.1,315.4 93.8,288.1 94.1,286.8 94.5,289.1 96.2,313.7 96.5,314.9 96.9,312.6 98.6,288.5 98.9,287.3 99.4,289.8 101.0,316.5 101.3,317.8 101.8,315.2 103.4,286.4 103.7,285.0 104.2,287.4 105.8,313.6 106.2,314.9 106.6,312.5 108.3,286.7 108.6,285.5 109.0,288.5 110.7,320.6 111.0,322.1 111.4,318.9 113.1,284.4 113.4,282.7 113.9,285.7 115.5,317.6 115.8,319.2 116.3,316.5 117.9,287.5 118.3,286.1 118.7,288.7 120.4,316.3 120.7,317.7 121.1,314.9 122.8,284.6 123.1,283.1 123.5,285.8 125.2,314.5 125.5,315.9 126.0,313.3 127.6,285.8 127.9,284.5 128.4,287.4 130.0,318.2 130.3,319.7 130.8,317.0 132.4,287.3 132.8,285.9 133.2,288.6 134.9,318.4 135.2,319.8 135.6,316.9 137.3,285.8 137.6,284.3 138.0,286.9 139.7,315.2 140.0,316.5 140.5,313.8 142.1,284.6 142.4,283.2 142.9,286.1 144.5,316.4 144.9,317.9 145.3,315.2 147.0,286.7 147.3,285.3 147.7,287.8 149.4,314.4 149.7,315.7 150.1,313.0 151.8,283.3 152.1,281.9 152.6,284.9 154.2,316.8 154.5,318.3 155.0,315.6 156.6,286.3 156.9,284.9 157.4,287.5 159.0,315.2 159.4,316.5 159.8,313.8 161.5,283.9 161.8,282.4 162.2,285.4 163.9,317.2 164.2,318.7 164.6,315.7 166.3,283.2 166.6,281.7 167.1,284.6 168.7,316.6 169.0,318.1 169.5,315.2 171.1,283.7 171.5,282.2 171.9,285.0 173.6,315.2 173.9,316.7 174.3,314.3 176.0,288.3 176.3,287.1 176.7,289.2 178.4,312.3 178.7,313.4 179.2,310.9 180.8,283.9 181.1,282.6 181.6,285.5 183.2,317.0 183.5,318.5 184.0,315.7 185.6,285.1 186.0,283.6 186.4,286.4 188.1,316.2 188.4,317.6 188.8,314.8 190.5,285.2 190.8,283.8 191.2,286.6 192.9,317.1 193.2,318.6 193.7,315.9 195.3,287.8 195.6,286.5 196.1,289.1 197.7,317.2 198.1,318.6 198.5,315.9 200.2,287.4 200.5,286.0 200.9,288.6 202.6,316.2 202.9,317.5 203.3,314.9 205.0,286.1 205.3,284.7 205.8,287.5 207.4,317.4 207.7,318.8 208.2,315.9 209.8,284.5 210.1,283.0 210.6,286.1 212.2,318.9 212.6,320.4 213.0,317.5 214.7,286.4 215.0,284.9 215.4,287.5 217.1,316.0 217.4,317.4 217.8,314.8 219.5,287.1 219.8,285.8 220.3,288.1 221.9,312.8 222.2,314.0 222.7,311.7 224.1,289.1" fill="none" stroke="#38d438" stroke-width="1.0" stroke-linejoin="round"/>
</g>
<rect x="57.1" y="192.3" width="175.0" height="135.3" fill="none" stroke="#000" stroke-width="1.1"/>
<line x1="65.05" y1="327.6" x2="65.05" y2="332.8" stroke="#000" stroke-width="1.1"/>
<text x="64.45" y="348.80" font-size="16.4" text-anchor="middle">0</text>
<line x1="96.87" y1="327.6" x2="96.87" y2="332.8" stroke="#000" stroke-width="1.1"/>
<text x="96.27" y="348.80" font-size="16.4" text-anchor="middle">10</text>
<line x1="128.69" y1="327.6" x2="128.69" y2="332.8" stroke="#000" stroke-width="1.1"/>
<text x="128.09" y="348.80" font-size="16.4" text-anchor="middle">20</text>
<line x1="160.51" y1="327.6" x2="160.51" y2="332.8" stroke="#000" stroke-width="1.1"/>
<text x="159.91" y="348.80" font-size="16.4" text-anchor="middle">30</text>
<line x1="192.33" y1="327.6" x2="192.33" y2="332.8" stroke="#000" stroke-width="1.1"/>
<text x="191.73" y="348.80" font-size="16.4" text-anchor="middle">40</text>
<line x1="224.15" y1="327.6" x2="224.15" y2="332.8" stroke="#000" stroke-width="1.1"/>
<text x="223.55" y="348.80" font-size="16.4" text-anchor="middle">50</text>
<line x1="51.9" y1="327.60" x2="57.1" y2="327.60" stroke="#000" stroke-width="1.1"/>
<text x="46.00" y="333.00" font-size="16.4" text-anchor="end">0.0</text>
<line x1="51.9" y1="282.50" x2="57.1" y2="282.50" stroke="#000" stroke-width="1.1"/>
<text x="46.00" y="287.90" font-size="16.4" text-anchor="end">0.5</text>
<line x1="51.9" y1="237.40" x2="57.1" y2="237.40" stroke="#000" stroke-width="1.1"/>
<text x="46.00" y="242.80" font-size="16.4" text-anchor="end">1.0</text>
<line x1="51.9" y1="192.30" x2="57.1" y2="192.30" stroke="#000" stroke-width="1.1"/>
<text x="46.00" y="197.70" font-size="16.4" text-anchor="end">1.5</text>
<text x="59.70" y="205.90" font-size="17.5">(</text>
<text x="66.00" y="205.90" font-size="17.5" font-style="italic">b</text>
<text x="74.30" y="208.50" font-size="11.5">1</text>
<text x="80.70" y="205.90" font-size="17.5">)</text>
<rect x="173.10" y="196.70" width="54.6" height="26.3" rx="2" ry="2" fill="#fff" fill-opacity="0.8" stroke="#d4d4d4" stroke-width="1"/>
<line x1="176.00" y1="202.80" x2="193.60" y2="202.80" stroke="#000000" stroke-width="1.0"/>
<text x="199.50" y="206.80" font-size="10" font-style="italic">q</text>
<text x="208.00" y="208.90" font-size="12.5" fill="#222">=</text>
<text x="218.70" y="206.80" font-size="10">0</text>
<line x1="176.00" y1="214.50" x2="193.60" y2="214.50" stroke="#38d438" stroke-width="1.0"/>
<text x="199.50" y="218.50" font-size="10" font-style="italic">q</text>
<text x="208.00" y="220.60" font-size="12.5" fill="#222">=</text>
<text x="218.70" y="218.50" font-size="10">4</text>
<text x="0" y="0" transform="translate(15.8,258.35) rotate(-90)" font-size="17" text-anchor="middle" font-family="'DejaVu Math TeX Gyre', 'Liberation Serif', 'DejaVu Serif', serif">𝒩</text>
<text x="144.60" y="369.6" font-size="17.5" text-anchor="middle" font-style="italic">λ<tspan dx="0.6">t</tspan></text>
<g clip-path="url(#c11)">
<polyline points="290.5,291.7 290.6,291.6 291.3,295.8 292.7,311.8 293.0,312.7 293.4,310.1 295.2,282.3 295.5,281.4 296.1,285.9 297.5,309.9 297.9,311.4 298.4,308.7 300.0,289.4 300.3,288.5 300.8,291.5 302.4,314.3 302.7,315.4 303.2,312.9 304.9,284.4 305.2,283.5 305.8,287.4 307.3,307.9 307.6,309.2 308.2,306.5 309.7,291.1 310.1,290.4 310.6,292.9 312.2,311.8 312.5,312.7 312.9,310.7 314.6,288.6 315.0,287.9 315.5,292.3 317.0,315.7 317.4,317.1 317.9,313.4 319.5,286.5 319.8,285.3 320.3,289.0 321.9,317.3 322.2,318.7 322.7,316.3 324.4,290.2 324.7,289.4 325.3,293.0 326.7,312.1 327.1,313.3 327.6,310.6 329.2,291.2 329.5,290.3 330.0,293.0 331.6,313.3 331.9,314.3 332.4,312.0 334.1,286.7 334.4,285.9 335.0,289.9 336.5,310.8 336.8,312.1 337.4,309.2 338.9,287.9 339.3,286.9 339.8,290.2 341.4,315.5 341.7,316.7 342.1,314.5 343.8,289.6 344.2,288.7 344.7,292.0 346.2,309.2 346.6,310.3 347.1,307.8 348.7,289.5 349.0,288.7 349.5,291.6 351.1,314.1 351.4,315.2 351.9,313.1 353.6,290.2 353.9,289.5 354.5,293.6 355.9,315.3 356.3,316.7 356.8,313.3 358.4,288.7 358.7,287.6 359.2,290.3 360.8,311.3 361.2,312.3 361.6,310.4 363.3,288.5 363.6,287.8 364.2,292.1 365.7,314.5 366.1,315.9 366.6,312.5 368.2,288.3 368.5,287.2 369.0,290.6 370.6,316.6 370.9,317.8 371.3,315.3 373.1,287.1 373.4,286.1 373.9,290.6 375.4,314.2 375.8,315.7 376.3,312.3 377.9,287.7 378.2,286.6 378.7,289.7 380.3,313.3 380.6,314.4 381.1,312.3 382.8,288.4 383.1,287.6 383.7,291.5 385.1,312.1 385.5,313.4 386.0,310.3 387.6,288.0 387.9,287.0 388.5,290.3 390.0,315.6 390.4,316.8 390.8,314.5 392.5,289.6 392.8,288.7 393.4,293.1 394.9,316.4 395.3,317.8 395.8,314.1 397.4,287.2 397.7,286.0 398.2,288.9 399.8,311.4 400.1,312.5 400.5,310.3 402.3,286.2 402.6,285.4 403.2,289.7 404.6,312.3 405.0,313.7 405.5,310.5 407.1,286.8 407.4,285.7 407.9,289.2 409.5,315.7 409.8,317.0 410.3,314.3 412.0,283.6 412.3,282.6 412.9,287.4 414.4,312.4 414.7,314.0 415.2,310.7 416.8,287.0 417.2,286.0 417.7,288.8 419.3,310.2 419.6,311.3 420.0,309.1 421.7,284.7 422.1,283.9 422.6,288.6 424.1,313.1 424.5,314.6 425.0,311.1 426.6,285.9 426.9,284.8 427.4,288.3 429.0,315.4 429.3,316.7 429.8,313.9 431.5,283.1 431.8,282.1 432.4,286.9 433.8,312.4 434.2,314.0 434.7,310.9 436.3,288.3 436.6,287.3 437.1,290.4 438.7,314.5 439.0,315.7 439.5,313.2 441.2,285.8 441.5,284.9 442.1,289.3 443.6,312.7 443.9,314.1 444.5,310.8 446.0,286.9 446.4,285.8 446.9,289.0 448.5,313.3 448.8,314.5 449.2,312.3 449.5,308.2" fill="none" stroke="#000000" stroke-width="1.0" stroke-linejoin="round"/>
<polyline points="290.5,245.5 291.0,264.5 291.7,300.2 292.3,302.6 294.1,319.0 294.5,319.9 295.0,311.2 295.7,292.2 296.1,287.9 296.7,275.6 297.1,279.6 297.9,291.0 298.3,294.2 299.2,315.1 299.4,315.4 300.0,303.4 300.6,290.8 301.1,287.8 301.9,277.0 302.2,279.7 302.8,290.8 303.2,296.6 304.1,318.0 304.3,318.5 305.5,301.0 305.9,298.0 306.4,289.9 306.9,293.9 307.6,301.3 308.0,303.7 309.0,319.8 309.1,319.9 309.7,309.7 310.4,299.0 310.8,296.4 311.5,285.6 311.8,287.3 312.5,296.4 313.0,301.3 313.8,319.0 313.9,319.4 314.4,310.9 315.2,292.3 315.6,287.4 316.1,277.1 316.7,282.9 317.4,291.6 317.7,294.2 318.7,322.3 318.8,322.6 319.5,304.8 320.1,286.2 320.5,281.1 321.1,266.6 321.6,273.6 322.3,284.5 322.7,291.2 323.5,316.1 323.7,316.7 324.2,308.1 324.9,289.2 325.3,283.3 325.6,271.4 326.2,275.3 327.0,286.4 327.4,287.8 328.4,310.0 328.6,310.3 329.2,297.8 329.8,284.8 330.2,282.0 331.0,270.8 331.4,275.7 332.0,284.6 332.5,291.7 333.3,317.6 333.5,318.1 334.7,294.7 335.1,291.1 335.6,281.3 336.1,284.8 336.8,294.6 337.2,296.9 338.2,311.5 338.3,311.7 338.9,304.6 339.6,297.1 340.0,295.1 340.7,289.8 341.2,292.6 341.7,297.5 342.2,302.3 343.0,320.2 343.2,320.5 344.4,298.8 344.8,296.5 345.6,284.1 345.8,284.0 346.6,295.4 347.2,304.0 347.9,323.5 348.0,323.7 348.7,307.3 349.3,290.2 349.7,282.0 350.1,270.1 350.7,277.7 351.4,289.3 351.7,291.5 352.8,319.3 352.9,319.5 353.4,308.8 354.2,285.3 354.5,279.3 355.0,265.8 355.6,272.4 356.3,286.5 356.6,289.7 357.7,323.0 357.8,323.3 358.4,307.2 359.1,290.4 359.4,284.7 360.1,267.4 360.5,271.2 361.2,285.3 361.7,291.1 362.5,312.4 362.7,312.9 363.9,293.7 364.3,291.1 364.9,283.2 365.4,287.3 366.1,294.0 366.4,296.3 367.4,320.6 367.5,320.9 368.2,308.3 368.8,295.2 369.2,291.8 369.9,280.2 370.3,284.9 371.0,294.9 371.4,299.5 372.2,316.1 372.4,316.5 373.6,301.4 374.0,299.7 374.8,290.2 375.0,290.1 375.9,300.9 376.4,303.5 377.1,309.6 377.3,309.5 378.5,300.0 378.9,298.8 379.9,291.1 380.1,291.7 380.8,296.3 381.4,306.8 382.0,317.9 382.1,318.0 382.6,310.0 383.4,292.3 383.7,289.4 384.5,276.5 385.0,282.8 385.6,290.9 386.1,299.0 386.9,317.3 387.0,317.5 387.6,300.6 388.3,282.9 388.6,279.1 389.3,266.4 389.8,271.4 390.4,281.8 390.9,289.1 391.7,315.9 391.9,316.4 393.1,289.5 393.5,286.7 394.4,268.2 394.8,271.9 395.3,284.8 395.8,293.2 396.6,312.0 396.7,312.2 397.4,299.5 398.0,286.1 398.4,281.2 399.0,269.0 399.4,273.0 400.2,283.6 400.5,289.2 401.4,319.4 401.6,320.0 402.8,296.7 403.3,294.6 404.4,285.2 404.5,284.9 405.1,297.8 406.0,314.8 406.4,321.1 406.8,317.5 407.7,298.6 408.2,296.4 409.1,289.0 409.2,288.9 410.0,300.1 410.6,304.9 411.2,310.0 411.6,308.6 412.6,293.4 413.0,291.1 413.5,284.9 414.0,287.2 414.7,293.5 415.1,295.4 416.1,315.6 416.2,315.8 416.8,303.5 417.5,290.7 417.9,287.9 418.7,271.8 418.9,271.4 419.7,288.7 420.3,304.7 421.0,321.8 421.0,321.9 421.5,312.8 422.3,292.7 422.6,285.9 423.0,271.5 423.5,276.0 424.4,289.2 424.7,290.9 425.8,319.9 425.9,320.2 426.6,304.1 427.2,287.3 427.6,282.4 428.3,266.1 428.8,273.7 429.4,283.8 429.8,291.3 430.6,318.6 430.8,319.2 432.0,293.1 432.4,289.9 433.2,274.6 433.3,274.5 433.8,283.4 434.3,292.6 434.8,300.0 435.5,316.6 435.7,316.9 436.3,305.1 436.9,292.8 437.3,289.0 438.0,276.3 438.5,281.0 439.1,287.4 439.5,293.0 440.4,323.2 440.6,323.9 441.8,302.2 442.2,298.7 442.8,286.9 443.2,290.8 443.9,300.7 444.3,302.8 445.3,316.5 445.4,316.7 446.0,304.4 446.7,291.6 447.1,289.3 448.1,279.0 448.2,279.0 448.9,292.3 449.5,303.8" fill="none" stroke="#38d438" stroke-width="1.0" stroke-linejoin="round"/>
</g>
<rect x="282.5" y="192.3" width="175.0" height="135.3" fill="none" stroke="#000" stroke-width="1.1"/>
<line x1="290.45" y1="327.6" x2="290.45" y2="332.8" stroke="#000" stroke-width="1.1"/>
<text x="289.85" y="348.80" font-size="16.4" text-anchor="middle">0</text>
<line x1="322.27" y1="327.6" x2="322.27" y2="332.8" stroke="#000" stroke-width="1.1"/>
<text x="321.67" y="348.80" font-size="16.4" text-anchor="middle">10</text>
<line x1="354.09" y1="327.6" x2="354.09" y2="332.8" stroke="#000" stroke-width="1.1"/>
<text x="353.49" y="348.80" font-size="16.4" text-anchor="middle">20</text>
<line x1="385.91" y1="327.6" x2="385.91" y2="332.8" stroke="#000" stroke-width="1.1"/>
<text x="385.31" y="348.80" font-size="16.4" text-anchor="middle">30</text>
<line x1="417.73" y1="327.6" x2="417.73" y2="332.8" stroke="#000" stroke-width="1.1"/>
<text x="417.13" y="348.80" font-size="16.4" text-anchor="middle">40</text>
<line x1="449.55" y1="327.6" x2="449.55" y2="332.8" stroke="#000" stroke-width="1.1"/>
<text x="448.95" y="348.80" font-size="16.4" text-anchor="middle">50</text>
<line x1="277.3" y1="327.60" x2="282.5" y2="327.60" stroke="#000" stroke-width="1.1"/>
<text x="271.40" y="333.00" font-size="16.4" text-anchor="end">0.0</text>
<line x1="277.3" y1="282.50" x2="282.5" y2="282.50" stroke="#000" stroke-width="1.1"/>
<text x="271.40" y="287.90" font-size="16.4" text-anchor="end">0.5</text>
<line x1="277.3" y1="237.40" x2="282.5" y2="237.40" stroke="#000" stroke-width="1.1"/>
<text x="271.40" y="242.80" font-size="16.4" text-anchor="end">1.0</text>
<line x1="277.3" y1="192.30" x2="282.5" y2="192.30" stroke="#000" stroke-width="1.1"/>
<text x="271.40" y="197.70" font-size="16.4" text-anchor="end">1.5</text>
<text x="285.10" y="205.90" font-size="17.5">(</text>
<text x="291.40" y="205.90" font-size="17.5" font-style="italic">b</text>
<text x="299.70" y="208.50" font-size="11.5">2</text>
<text x="306.10" y="205.90" font-size="17.5">)</text>
<rect x="398.50" y="196.70" width="54.6" height="26.3" rx="2" ry="2" fill="#fff" fill-opacity="0.8" stroke="#d4d4d4" stroke-width="1"/>
<line x1="401.40" y1="202.80" x2="419.00" y2="202.80" stroke="#000000" stroke-width="1.0"/>
<text x="424.90" y="206.80" font-size="10" font-style="italic">ζ</text>
<text x="433.40" y="208.90" font-size="12.5" fill="#222">=</text>
<text x="444.10" y="206.80" font-size="10">1</text>
<line x1="401.40" y1="214.50" x2="419.00" y2="214.50" stroke="#38d438" stroke-width="1.0"/>
<text x="424.90" y="218.50" font-size="10" font-style="italic">ζ</text>
<text x="433.40" y="220.60" font-size="12.5" fill="#222">=</text>
<text x="444.10" y="218.50" font-size="10">5</text>
<text x="370.00" y="369.6" font-size="17.5" text-anchor="middle" font-style="italic">λ<tspan dx="0.6">t</tspan></text>
<g clip-path="url(#c12)">
<polyline points="515.9,279.0 516.6,284.5 517.2,299.9 517.7,295.7 518.7,316.8 519.4,302.8 519.9,305.5 520.6,288.3 521.3,273.1 522.0,294.3 522.5,289.0 523.4,316.0 524.1,298.2 524.6,301.6 525.3,280.0 526.0,271.8 526.7,295.3 527.2,289.5 528.2,319.3 528.9,299.7 529.4,303.4 530.1,279.6 530.8,271.7 531.5,294.8 532.0,289.0 533.0,318.3 533.7,299.1 534.2,302.7 534.9,279.4 535.6,279.1 536.3,298.0 536.8,293.2 537.7,317.3 538.4,301.4 539.0,304.4 539.7,285.1 540.4,282.1 541.1,298.4 541.6,294.5 542.5,314.8 543.2,301.7 543.7,304.2 544.4,288.5 545.1,271.8 545.8,295.2 546.3,289.6 547.3,318.6 548.0,299.9 548.5,303.5 549.2,281.1 549.9,264.0 550.6,290.2 551.1,284.0 552.1,316.4 552.8,295.5 553.3,299.6 554.0,274.5 554.7,261.4 555.4,288.7 555.9,282.2 556.8,316.0 557.5,294.2 558.0,298.4 558.7,272.3 559.4,267.0 560.1,290.4 560.7,284.8 561.6,313.7 562.3,295.1 562.8,298.7 563.5,276.4 564.3,281.7 564.9,299.3 565.4,294.7 566.4,318.2 567.1,303.1 567.6,306.0 568.3,287.9 569.0,283.9 569.7,299.1 570.2,295.5 571.2,314.3 571.9,302.2 572.4,304.5 573.1,290.0 573.8,275.9 574.5,292.0 575.0,288.2 575.9,308.1 576.6,295.5 577.1,298.0 577.8,283.2 578.5,266.1 579.2,289.6 579.7,284.2 580.7,313.0 581.4,294.6 581.9,298.2 582.6,276.6 583.5,286.0 584.0,297.9 584.5,294.7 585.5,311.9 586.2,301.0 586.7,303.2 587.4,290.5 588.1,288.9 588.8,301.2 589.3,298.4 590.2,313.2 590.9,303.9 591.5,305.8 592.3,290.1 592.9,269.9 593.6,293.6 594.1,288.1 595.0,317.1 595.7,298.6 596.2,302.2 596.9,279.9 597.6,274.1 598.3,296.6 598.8,291.2 599.8,319.3 600.5,301.1 601.0,304.6 601.7,282.7 602.4,277.1 603.1,294.8 603.6,290.5 604.6,312.5 605.3,298.2 605.8,301.0 606.5,283.8 607.2,266.9 607.9,289.4 608.4,284.0 609.3,311.9 610.0,293.8 610.5,297.3 611.2,275.6 611.9,270.2 612.6,289.4 613.2,284.8 614.1,308.7 614.8,293.3 615.3,296.3 616.0,277.9 616.8,288.3 617.4,299.3 617.9,296.6 618.9,310.6 619.6,301.6 620.1,303.3 621.0,287.4 621.5,276.0 622.2,298.0 622.7,292.8 623.7,319.9 624.4,302.4 624.9,305.8 625.6,284.8 626.3,285.8 627.0,298.8 627.5,295.7 628.4,312.1 629.1,301.5 629.6,303.6 630.3,290.9 631.0,288.3 631.7,302.4 632.2,299.0 633.2,316.5 633.9,305.2 634.4,307.4 635.4,287.5 635.8,273.3 636.5,290.4 637.0,286.3 638.0,307.4 638.7,293.8 639.2,296.4 639.9,280.1 640.8,293.7 641.3,303.8 641.8,300.4 642.7,317.8 643.4,306.6 644.0,308.7 644.8,288.8 645.4,262.1 646.1,287.4 646.6,281.3 647.5,312.9 648.2,292.4 648.7,296.3 649.4,271.7 650.1,271.7 650.8,293.3 651.3,288.1 652.3,315.0 653.0,297.5 653.5,300.9 654.2,279.9 654.9,279.3 655.6,296.1 656.1,292.0 657.1,313.0 657.8,299.4 658.3,302.0 659.0,285.5 659.7,273.4 660.4,294.6 660.9,289.5 661.8,316.1 662.5,298.8 663.0,302.1 663.7,281.4 664.4,275.8 665.1,292.3 665.7,288.4 666.6,309.0 667.3,296.1 667.8,298.7 668.5,283.9 669.3,286.1 669.9,297.3 670.4,294.9 671.4,308.3 672.1,300.1 672.6,301.8 673.4,289.4 674.0,260.2 674.7,287.7 674.9,284.5" fill="none" stroke="#000000" stroke-width="1.0" stroke-linejoin="round"/>
<polyline points="515.9,247.0 516.8,260.5 517.4,268.3 518.3,262.4 519.0,258.0 520.0,268.4 520.6,274.3 521.5,268.8 522.2,266.4 523.2,276.9 523.8,282.8 524.6,276.8 525.4,275.8 526.4,285.3 527.0,290.6 527.8,285.0 528.6,282.0 529.5,290.2 530.2,294.7 531.0,287.9 531.8,280.5 532.7,292.6 533.4,299.2 534.2,288.8 534.9,285.1 535.9,293.7 536.5,298.3 537.4,291.2 538.1,285.5 539.1,293.2 539.7,297.3 540.5,289.0 541.3,284.2 542.3,290.8 542.9,294.2 543.7,286.9 544.5,279.8 545.4,287.1 546.1,290.7 546.9,279.8 547.7,273.2 548.6,278.0 549.3,280.3 550.1,272.7 550.9,268.0 551.8,277.4 552.4,282.3 553.3,271.7 554.0,262.3 555.0,271.8 555.6,276.8 556.5,267.8 557.2,260.9 558.2,271.2 558.8,276.7 559.6,267.0 560.4,259.0 561.4,268.5 562.0,273.8 562.8,265.9 563.6,262.0 564.5,269.0 565.2,272.9 566.0,267.3 566.8,266.3 567.7,275.2 568.4,280.2 569.2,274.8 570.0,275.3 570.9,284.0 571.5,289.0 572.4,284.0 573.1,276.7 574.1,289.9 574.7,297.2 575.5,288.6 576.3,285.2 577.3,295.3 577.9,301.0 578.7,294.7 579.5,288.8 580.4,297.6 581.1,302.6 581.9,296.9 582.7,293.7 583.6,303.6 584.3,308.7 585.1,298.1 585.9,291.6 586.8,298.3 587.4,301.7 588.3,292.3 589.0,284.5 590.0,289.5 590.6,291.9 591.5,282.1 592.2,280.1 593.2,284.3 593.8,286.3 594.6,277.9 595.4,266.4 596.4,275.2 597.0,279.6 597.8,268.5 598.6,263.3 599.5,270.5 600.2,274.3 601.0,266.4 601.8,258.3 602.7,269.9 603.4,276.3 604.2,265.9 604.9,260.7 605.9,270.4 606.5,275.7 607.4,267.2 608.1,266.7 609.1,274.1 609.7,278.3 610.5,274.0 611.3,268.3 612.3,277.5 612.9,282.6 613.7,276.7 614.5,271.6 615.4,279.7 616.1,284.3 616.9,279.1 617.7,276.8 618.6,285.2 619.3,289.9 620.1,284.5 620.9,281.5 621.8,289.1 622.4,293.3 623.3,287.4 624.0,279.9 625.0,289.8 625.6,295.2 626.5,287.3 627.2,285.3 628.2,294.7 628.8,299.7 629.6,290.6 630.4,282.6 631.4,292.9 632.0,298.4 632.8,288.4 633.6,282.4 634.5,290.4 635.2,294.6 636.0,285.3 636.8,281.2 637.7,288.2 638.4,291.8 639.2,283.4 639.9,279.9 640.9,285.2 641.5,287.8 642.4,279.7 643.1,270.5 644.1,277.6 644.7,281.2 645.5,272.3 646.3,264.7 647.3,272.0 647.9,275.9 648.7,267.8 649.5,264.4 650.4,271.5 651.1,275.3 651.9,268.5 652.7,264.6 653.6,270.8 654.3,274.1 655.1,268.2 655.9,265.6 656.8,272.7 657.4,276.6 658.3,270.7 659.0,266.6 660.0,273.1 660.6,276.6 661.5,271.3 662.2,264.3 663.2,274.1 663.8,279.6 664.6,272.7 665.4,268.7 666.4,280.4 667.0,286.9 667.8,279.7 668.6,273.9 669.5,288.7 670.2,297.1 671.0,288.8 671.8,287.9 672.7,300.4 673.4,307.5 674.2,302.2 674.9,298.5" fill="none" stroke="#38d438" stroke-width="1.0" stroke-linejoin="round"/>
</g>
<rect x="507.9" y="192.3" width="175.0" height="135.3" fill="none" stroke="#000" stroke-width="1.1"/>
<line x1="515.85" y1="327.6" x2="515.85" y2="332.8" stroke="#000" stroke-width="1.1"/>
<text x="515.25" y="348.80" font-size="16.4" text-anchor="middle">0</text>
<line x1="547.67" y1="327.6" x2="547.67" y2="332.8" stroke="#000" stroke-width="1.1"/>
<text x="547.07" y="348.80" font-size="16.4" text-anchor="middle">10</text>
<line x1="579.49" y1="327.6" x2="579.49" y2="332.8" stroke="#000" stroke-width="1.1"/>
<text x="578.89" y="348.80" font-size="16.4" text-anchor="middle">20</text>
<line x1="611.31" y1="327.6" x2="611.31" y2="332.8" stroke="#000" stroke-width="1.1"/>
<text x="610.71" y="348.80" font-size="16.4" text-anchor="middle">30</text>
<line x1="643.13" y1="327.6" x2="643.13" y2="332.8" stroke="#000" stroke-width="1.1"/>
<text x="642.53" y="348.80" font-size="16.4" text-anchor="middle">40</text>
<line x1="674.95" y1="327.6" x2="674.95" y2="332.8" stroke="#000" stroke-width="1.1"/>
<text x="674.35" y="348.80" font-size="16.4" text-anchor="middle">50</text>
<line x1="502.7" y1="327.60" x2="507.9" y2="327.60" stroke="#000" stroke-width="1.1"/>
<text x="496.80" y="333.00" font-size="16.4" text-anchor="end">0.0</text>
<line x1="502.7" y1="282.50" x2="507.9" y2="282.50" stroke="#000" stroke-width="1.1"/>
<text x="496.80" y="287.90" font-size="16.4" text-anchor="end">0.5</text>
<line x1="502.7" y1="237.40" x2="507.9" y2="237.40" stroke="#000" stroke-width="1.1"/>
<text x="496.80" y="242.80" font-size="16.4" text-anchor="end">1.0</text>
<line x1="502.7" y1="192.30" x2="507.9" y2="192.30" stroke="#000" stroke-width="1.1"/>
<text x="496.80" y="197.70" font-size="16.4" text-anchor="end">1.5</text>
<text x="510.50" y="205.90" font-size="17.5">(</text>
<text x="516.80" y="205.90" font-size="17.5" font-style="italic">b</text>
<text x="525.10" y="208.50" font-size="11.5">3</text>
<text x="531.50" y="205.90" font-size="17.5">)</text>
<rect x="612.10" y="196.70" width="66.4" height="26.3" rx="2" ry="2" fill="#fff" fill-opacity="0.8" stroke="#d4d4d4" stroke-width="1"/>
<line x1="615.00" y1="202.80" x2="632.60" y2="202.80" stroke="#000000" stroke-width="1.0"/>
<text x="638.90" y="206.80" font-size="10" font-style="italic">β</text>
<text x="647.40" y="208.90" font-size="12.5" fill="#222">=</text>
<text x="659.00" y="206.80" font-size="10" letter-spacing="0.9">1/4</text>
<line x1="615.00" y1="214.50" x2="632.60" y2="214.50" stroke="#38d438" stroke-width="1.0"/>
<text x="638.90" y="218.50" font-size="10" font-style="italic">β</text>
<text x="647.40" y="220.60" font-size="12.5" fill="#222">=</text>
<text x="659.00" y="218.50" font-size="10">4</text>
<text x="595.40" y="369.6" font-size="17.5" text-anchor="middle" font-style="italic">λ<tspan dx="0.6">t</tspan></text>
</g>
</svg>
</body></html>
